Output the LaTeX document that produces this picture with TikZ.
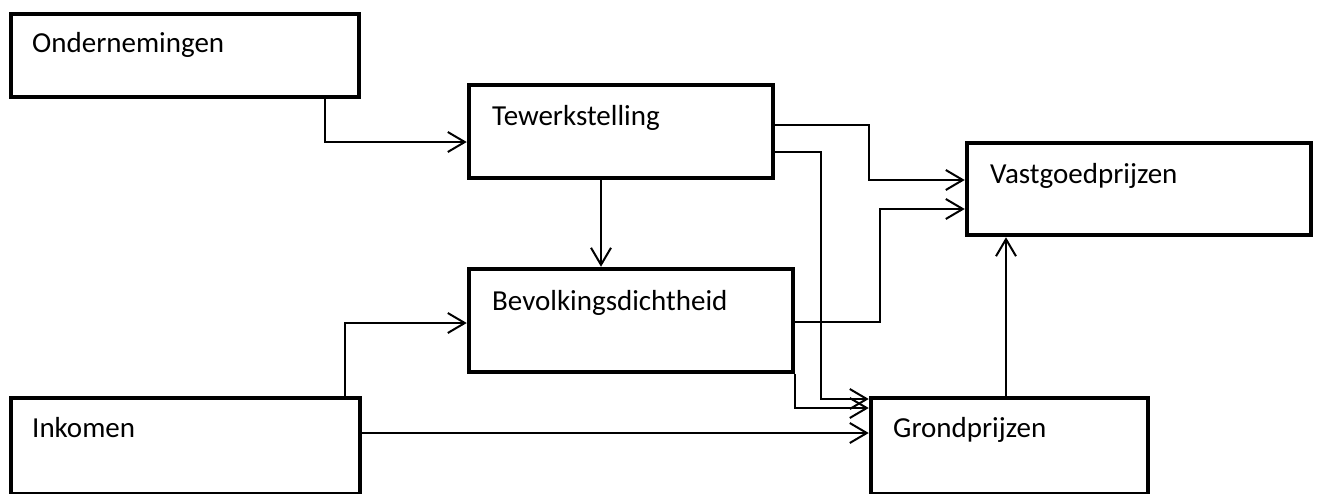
\documentclass[tikz,border=0pt]{standalone}
\usepackage{fontspec}
\setmainfont{Carlito}
\usetikzlibrary{arrows.meta}

\tikzset{
  box/.style={draw, line width=4.5pt, fill=none, inner sep=0pt},
  lbl/.style={anchor=base west, inner sep=0pt, font=\fontsize{29}{34}\selectfont},
  conn/.style={draw, line width=2pt, -{Straight Barb[length=17pt, width=20pt]}},
}

\begin{document}
\begin{tikzpicture}[x=1pt, y=-1pt]
  \useasboundingbox (0,0) rectangle (1320,493);
  \clip (0,0) rectangle (1320,493);

  % boxes
  \node[box, minimum width=348pt, minimum height=83pt] (ond) at (185,55.5) {};
  \node[box, minimum width=304pt, minimum height=93pt] (tew) at (621,131.5) {};
  \node[box, minimum width=324pt, minimum height=103pt] (bev) at (631,320.5) {};
  \node[box, minimum width=344pt, minimum height=92pt] (vas) at (1139,189) {};
  \node[box, minimum width=277pt, minimum height=96pt] (gro) at (1009.5,446) {};
  \node[box, minimum width=349pt, minimum height=96pt] (ink) at (185.5,446) {};

  % labels
  \node[lbl] (ond-t) at (32,52) {Ondernemingen};
  \node[lbl] (tew-t) at (492,125) {Tewerkstelling};
  \node[lbl] (bev-t) at (492,310) {Bevolkingsdichtheid};
  \node[lbl] (vas-t) at (990,183) {Vastgoedprijzen};
  \node[lbl] (gro-t) at (893,437) {Grondprijzen};
  \node[lbl] (ink-t) at (32,437) {Inkomen};

  % connectors
  \draw[conn] ([xshift=140pt]ond.south) |- ([yshift=-10.5pt]tew.west);
  \draw[conn] ([xshift=-20pt]tew.south) -- ([xshift=-30pt]bev.north);
  \draw[conn] ([yshift=6.5pt]tew.east) -- ++(94,0) |- ([yshift=9pt]vas.west);
  \draw[conn] ([yshift=-20.5pt]tew.east) -- ++(46,0) |- ([yshift=47pt]gro.west);
  \draw[conn] ([yshift=-1.5pt]bev.east) -- ++(85,0) |- ([yshift=-20pt]vas.west);
  \draw[conn] (bev.south east) |- ([yshift=38pt]gro.west);
  \draw[conn] ([yshift=13pt]ink.east) -- ([yshift=13pt]gro.west);
  \draw[conn] ([xshift=159.5pt]ink.north) |- ([yshift=-2.5pt]bev.west);
  \draw[conn] ([xshift=-3.5pt]gro.north) -- ([xshift=-133pt]vas.south);
\end{tikzpicture}
\end{document}
